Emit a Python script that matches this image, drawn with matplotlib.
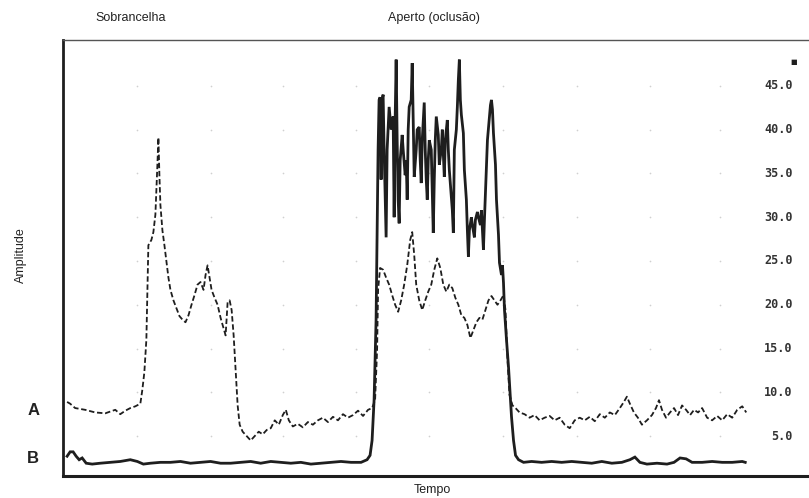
import matplotlib
matplotlib.use("Agg")
import matplotlib.pyplot as plt
import numpy as np

# --- canal A (tracejado): amostra, amplitude ---
a_t = [0, 3, 8, 18, 28, 38, 48, 53, 58, 63, 68, 73, 75, 77, 79, 81, 84, 86, 88, 89,
       90, 91, 92, 93, 95, 97, 99, 101, 103, 106, 109, 112, 115, 118, 121, 124, 127, 130,
       133, 136, 138, 140, 142, 144, 147, 150, 153, 156, 158, 160, 162, 164, 166, 168,
       170, 172, 175, 179, 183, 187, 191, 195, 199, 203, 207, 211, 215, 218, 221, 225,
       230, 235, 240, 245, 250, 255, 260, 265, 270, 275, 280, 285, 290, 295, 300, 304,
       307, 309, 310, 312, 315, 318, 321, 324, 327, 330, 333, 336, 339, 342, 344, 346,
       348, 351, 354, 357, 360, 363, 366, 369, 372, 375, 378, 381, 384, 387, 390, 393,
       396, 399, 402, 405, 408, 411, 414, 417, 420, 423, 426, 429, 432, 435, 437, 439,
       441, 444, 447, 451, 456, 461, 466, 471, 476, 481, 486, 491, 496, 501, 506, 511,
       516, 521, 526, 531, 536, 541, 546, 551, 555, 558, 561, 565, 569, 573, 578, 583,
       587, 590, 593, 597, 601, 605, 609, 613, 617, 621, 625, 629, 633, 638, 643, 648,
       653, 658, 663, 668, 673, 677]
a_v = [8.9, 8.7, 8.2, 8.0, 7.7, 7.6, 8.0, 7.5, 7.9, 8.2, 8.4, 8.7, 10.3, 12.3, 16.0, 26.8,
       27.4, 28.3, 30.3, 33.1, 36.0, 39.1, 34.8, 31.4, 28.5, 26.8, 24.9, 23.1, 21.7, 20.5,
       19.6, 18.7, 18.3, 18.0, 18.8, 20.0, 21.1, 22.3, 22.6, 21.7, 23.4, 24.5, 23.1, 21.7,
       20.8, 20.0, 18.5, 17.3, 16.5, 20.3, 20.5, 19.4, 16.5, 12.5, 8.5, 6.3, 5.5, 5.0, 4.5,
       5.0, 5.5, 5.2, 5.7, 5.9, 6.8, 6.3, 7.4, 8.0, 6.8, 6.1, 6.4, 6.0, 6.6, 6.3, 6.8, 7.1,
       6.6, 7.2, 6.8, 7.5, 7.1, 7.4, 7.9, 7.3, 8.0, 8.2, 9.1, 14.8, 21.7, 24.2, 24.0, 23.1,
       22.3, 21.1, 20.0, 19.2, 20.5, 22.3, 24.5, 27.4, 28.3, 25.7, 22.3, 20.5, 19.4, 20.5,
       21.5, 22.3, 24.0, 25.3, 24.2, 22.3, 21.5, 22.3, 21.9, 20.8, 20.0, 18.8, 18.5, 17.7,
       16.2, 17.1, 18.0, 18.5, 18.3, 19.4, 20.5, 21.0, 20.5, 20.0, 20.5, 21.1, 19.4, 13.7,
       9.7, 8.5, 8.2, 7.7, 7.5, 7.1, 7.4, 6.8, 7.1, 7.3, 6.8, 7.1, 6.3, 5.9, 6.8, 7.1, 6.8,
       7.2, 6.7, 7.5, 7.1, 7.7, 7.4, 8.2, 8.9, 9.5, 8.7, 7.7, 7.1, 6.3, 6.8, 7.4, 8.2, 9.1,
       8.0, 7.1, 7.7, 8.2, 7.4, 8.5, 8.0, 7.4, 8.0, 7.7, 8.2, 7.1, 6.8, 7.3, 6.8, 7.5, 7.1,
       8.0, 8.4, 7.7]

# --- canal B (continuo) ---
b_t = [0, 3, 6, 9, 12, 15, 19, 25, 33, 43, 53, 63, 70, 76, 83, 93, 103, 113, 123, 133,
       143, 153, 163, 173, 183, 193, 203, 213, 223, 233, 243, 253, 263, 273, 283, 293,
       299, 302, 304, 306, 308, 309, 310, 311, 312, 313, 314, 315, 316, 318, 319, 321,
       323, 325, 326, 327, 328, 329, 330, 331, 332, 334, 335, 337, 338, 339, 340, 341,
       343, 344, 345, 346, 348, 349, 351, 352, 353, 354, 356, 357, 358, 359, 360, 361,
       363, 364, 365, 366, 367, 368, 370, 371, 373, 374, 376, 377, 379, 380, 381, 383,
       384, 385, 386, 388, 389, 390, 391, 392, 393, 395, 396, 398, 399, 400, 401, 403,
       404, 406, 407, 409, 410, 412, 413, 414, 415, 416, 418, 419, 421, 422, 423, 424,
       425, 427, 428, 430, 431, 433, 434, 435, 436, 438, 440, 442, 443, 445, 447, 450,
       455, 463, 473, 483, 493, 503, 513, 523, 533, 543, 553, 561, 566, 571, 578, 588,
       598, 605, 611, 617, 623, 633, 643, 653, 663, 673, 676]
b_v = [2.7, 3.2, 3.2, 2.7, 2.3, 2.5, 1.9, 1.8, 1.9, 2.0, 2.1, 2.3, 2.1, 1.8, 1.9, 2.0,
       2.0, 2.1, 1.9, 2.0, 2.1, 1.9, 1.9, 2.0, 2.1, 1.9, 2.1, 2.0, 1.9, 2.0, 1.8, 1.9,
       2.0, 2.1, 2.0, 2.0, 2.3, 2.8, 4.5, 9.1, 18.3, 28.5, 37.7, 43.4, 43.7, 34.3, 43.4,
       44.0, 37.7, 27.7, 37.7, 42.6, 40.0, 41.5, 30.0, 41.1, 48.0, 38.8, 32.0, 29.3, 36.5,
       39.4, 37.7, 34.8, 36.5, 32.0, 40.0, 42.6, 43.4, 47.6, 41.1, 34.6, 37.7, 40.0, 40.3,
       36.5, 33.9, 38.8, 43.1, 37.7, 34.3, 32.0, 36.5, 38.8, 37.7, 33.1, 28.2, 34.3, 38.8,
       41.5, 39.4, 36.0, 37.7, 40.0, 34.6, 38.8, 41.1, 37.7, 35.4, 32.3, 30.8, 28.2, 37.7,
       40.0, 42.6, 45.7, 48.0, 43.4, 41.7, 39.6, 35.4, 32.0, 28.5, 25.5, 28.5, 30.0, 29.1,
       27.7, 29.7, 30.6, 30.0, 29.1, 30.8, 28.5, 26.3, 29.7, 35.7, 38.8, 41.5, 42.8, 43.4,
       42.3, 39.6, 36.0, 32.0, 28.0, 24.8, 23.4, 24.5, 22.5, 19.4, 16.0, 12.9, 9.1, 7.2,
       4.5, 2.8, 2.3, 2.0, 2.1, 2.0, 2.1, 2.0, 2.1, 2.0, 1.9, 2.1, 1.9, 2.0, 2.3, 2.6,
       2.0, 1.8, 1.9, 1.8, 2.0, 2.5, 2.4, 2.0, 2.0, 2.1, 2.0, 2.0, 2.1, 2.0]

y_ticks = [5.0, 10.0, 15.0, 20.0, 25.0, 30.0, 35.0, 40.0, 45.0]
x_grid = [70, 143, 215, 288, 361, 435, 508, 581, 651]

INK = "#1e1e1e"

fig = plt.figure(figsize=(8.09, 4.98), dpi=100)
ax = fig.add_axes([0.078, 0.044, 0.93, 0.876])

# pontinhos de grade, bem claros
gx, gy = np.meshgrid(x_grid, y_ticks)
ax.scatter(gx.ravel(), gy.ravel(), s=1.5, color="#d0d0d0", linewidths=0, zorder=1)

ax.plot(a_t, a_v, color=INK, lw=1.3, dashes=(3, 1.5), zorder=3)
ax.plot(b_t, b_v, color=INK, lw=2.0, solid_joinstyle="miter", zorder=2)

ax.set_xlim(-4, 746)
ax.set_ylim(0.43, 50.26)
ax.set_xticks([])
ax.set_yticks([])

for v in y_ticks:
    ax.text(723, v, f"{v:.1f}", ha="right", va="center", fontsize=8.5,
            family="DejaVu Sans Mono", fontweight="bold", color="#333333")
ax.text(0.971, 0.95, "■", transform=ax.transAxes, ha="center", va="center",
        fontsize=5, color=INK)

ax.spines["right"].set_visible(False)
ax.spines["top"].set_linewidth(1.0)
ax.spines["top"].set_color("#555555")
ax.spines["left"].set_linewidth(2.0)
ax.spines["bottom"].set_linewidth(2.2)
ax.spines["left"].set_color(INK)
ax.spines["bottom"].set_color(INK)

txt = dict(family="Liberation Sans", fontsize=9, color="#222222")
fig.text(0.162, 0.964, "Sobrancelha", ha="center", va="center", **txt)
fig.text(0.536, 0.964, "Aperto (oclusão)", ha="center", va="center", **txt)
fig.text(0.026, 0.488, "Amplitude", ha="center", va="center", rotation=90, **txt)
fig.text(0.534, 0.016, "Tempo", ha="center", va="center", **txt)
fig.text(0.041, 0.175, "A", ha="center", va="center", family="Liberation Sans",
         fontsize=12, fontweight="bold", color="#222222")
fig.text(0.041, 0.080, "B", ha="center", va="center", family="Liberation Sans",
         fontsize=12, fontweight="bold", color="#222222")

fig.savefig("out.png", dpi=100)
